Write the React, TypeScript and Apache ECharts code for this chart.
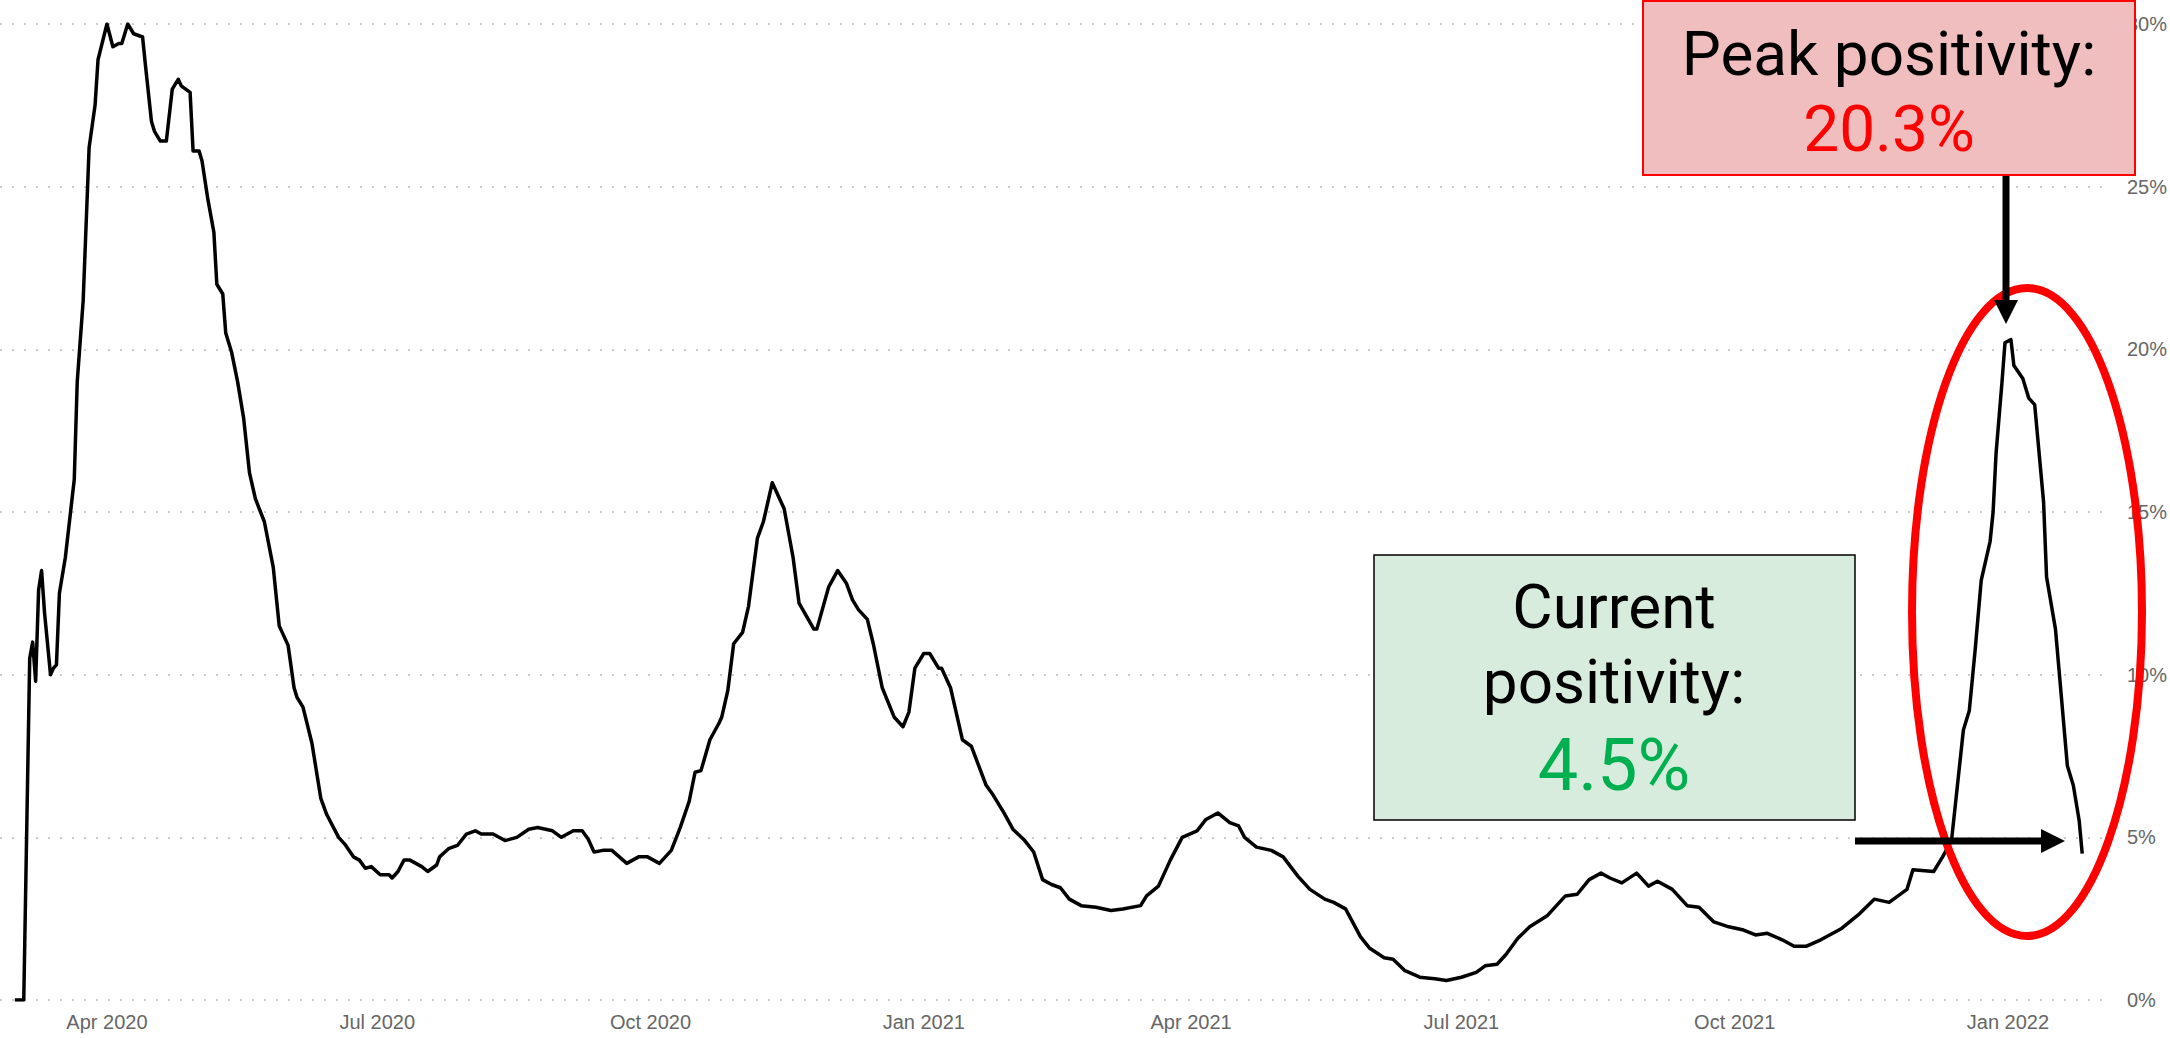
import React, { useEffect, useRef } from "react";
import * as echarts from "echarts";

// ---- Data ----
const dates2020 = [
  "2020-03-01","2020-03-04","2020-03-06","2020-03-07","2020-03-08","2020-03-09","2020-03-10","2020-03-11",
  "2020-03-13","2020-03-14","2020-03-15","2020-03-16","2020-03-18","2020-03-20","2020-03-21","2020-03-22",
  "2020-03-24","2020-03-26","2020-03-28","2020-03-29","2020-04-01","2020-04-03","2020-04-05","2020-04-06",
  "2020-04-08","2020-04-10","2020-04-13","2020-04-14","2020-04-16","2020-04-17","2020-04-19","2020-04-21",
  "2020-04-23","2020-04-25","2020-04-26","2020-04-29","2020-04-30","2020-05-02","2020-05-03","2020-05-05",
  "2020-05-07","2020-05-08","2020-05-10","2020-05-11","2020-05-13","2020-05-15","2020-05-17","2020-05-19",
  "2020-05-21","2020-05-24","2020-05-27","2020-05-29","2020-06-01","2020-06-03","2020-06-04","2020-06-06",
  "2020-06-09","2020-06-12","2020-06-14","2020-06-18","2020-06-20","2020-06-23","2020-06-25","2020-06-27",
  "2020-06-29","2020-07-02","2020-07-05","2020-07-06","2020-07-08","2020-07-10","2020-07-12","2020-07-16",
  "2020-07-18","2020-07-21","2020-07-22","2020-07-25","2020-07-28","2020-07-31","2020-08-03","2020-08-05",
  "2020-08-09","2020-08-11","2020-08-13","2020-08-17","2020-08-21","2020-08-24","2020-08-29","2020-09-01",
  "2020-09-05","2020-09-08","2020-09-10","2020-09-12","2020-09-15","2020-09-18","2020-09-23","2020-09-27",
  "2020-09-30","2020-10-04","2020-10-08","2020-10-11","2020-10-14","2020-10-16","2020-10-18","2020-10-21",
  "2020-10-24","2020-10-25","2020-10-27","2020-10-29","2020-11-01","2020-11-03","2020-11-06","2020-11-08",
  "2020-11-11","2020-11-15","2020-11-18","2020-11-20","2020-11-25","2020-11-26","2020-11-30","2020-12-03",
  "2020-12-06","2020-12-08","2020-12-10","2020-12-13","2020-12-15","2020-12-18","2020-12-22","2020-12-25",
  "2020-12-27","2020-12-29"
];
const values2020 = [
  0, 0, 10.5, 11.0, 9.8, 12.6, 13.2, 11.9,
  10.0, 10.2, 10.3, 12.5, 13.6, 15.2, 16.0, 19.0,
  21.5, 26.2, 27.5, 28.9, 30.0, 29.3, 29.4, 29.4,
  30.0, 29.7, 29.6, 28.7, 27.0, 26.7, 26.4, 26.4,
  28.0, 28.3, 28.1, 27.9, 26.1, 26.1, 25.8, 24.6,
  23.6, 22.0, 21.7, 20.5, 19.9, 19.0, 17.9, 16.2,
  15.4, 14.7, 13.3, 11.5, 10.9, 9.6, 9.3, 9.0,
  7.9, 6.2, 5.7, 5.0, 4.8, 4.4, 4.3, 4.05,
  4.1, 3.85, 3.85, 3.75, 3.95, 4.3, 4.3, 4.1,
  3.95, 4.15, 4.4, 4.65, 4.75, 5.1, 5.2, 5.1,
  5.1, 5.0, 4.9, 5.0, 5.25, 5.3, 5.2, 5.0,
  5.2, 5.2, 4.95, 4.55, 4.6, 4.6, 4.2, 4.4,
  4.4, 4.2, 4.6, 5.3, 6.1, 7.0, 7.05, 8.0,
  8.5, 8.7, 9.5, 10.95, 11.3, 12.1, 14.2, 14.7,
  15.9, 15.1, 13.6, 12.2, 11.4, 11.4, 12.7, 13.2,
  12.8, 12.3, 12.0, 11.7, 10.95, 9.6, 8.7, 8.4,
  8.85, 10.2
];
const dates2021 = [
  "2021-01-01","2021-01-03","2021-01-06","2021-01-07","2021-01-10","2021-01-14","2021-01-17","2021-01-22",
  "2021-01-24","2021-01-28","2021-01-31","2021-02-04","2021-02-07","2021-02-10","2021-02-13","2021-02-16",
  "2021-02-19","2021-02-23","2021-02-28","2021-03-05","2021-03-09","2021-03-15","2021-03-17","2021-03-21",
  "2021-03-25","2021-03-29","2021-04-03","2021-04-06","2021-04-10","2021-04-14","2021-04-17","2021-04-19",
  "2021-04-23","2021-04-28","2021-05-02","2021-05-07","2021-05-11","2021-05-16","2021-05-19","2021-05-23",
  "2021-05-28","2021-05-31","2021-06-05","2021-06-08","2021-06-12","2021-06-17","2021-06-22","2021-06-26",
  "2021-07-01","2021-07-06","2021-07-09","2021-07-13","2021-07-16","2021-07-20","2021-07-24","2021-07-30",
  "2021-08-05","2021-08-09","2021-08-13","2021-08-17","2021-08-20","2021-08-24","2021-08-29","2021-09-02",
  "2021-09-05","2021-09-10","2021-09-15","2021-09-19","2021-09-24","2021-09-29","2021-10-04","2021-10-08",
  "2021-10-12","2021-10-17","2021-10-21","2021-10-25","2021-10-30","2021-11-06","2021-11-12","2021-11-17",
  "2021-11-22","2021-11-28","2021-11-30","2021-12-07","2021-12-10","2021-12-13","2021-12-15","2021-12-17",
  "2021-12-19","2021-12-21","2021-12-23","2021-12-26","2021-12-27","2021-12-28","2021-12-30","2021-12-31"
];
const values2021 = [
  10.65, 10.65, 10.2, 10.2, 9.6, 8.0, 7.8, 6.6,
  6.35, 5.75, 5.25, 4.9, 4.55, 3.7, 3.55, 3.45,
  3.1, 2.9, 2.85, 2.75, 2.8, 2.9, 3.2, 3.5,
  4.3, 5.0, 5.2, 5.55, 5.75, 5.45, 5.35, 5.0,
  4.7, 4.6, 4.4, 3.8, 3.4, 3.1, 3.0, 2.8,
  1.95, 1.6, 1.3, 1.25, 0.9, 0.7, 0.65, 0.6,
  0.7, 0.85, 1.05, 1.1, 1.4, 1.9, 2.25, 2.6,
  3.2, 3.25, 3.7, 3.9, 3.75, 3.6, 3.9, 3.5,
  3.65, 3.4, 2.9, 2.85, 2.4, 2.25, 2.15, 2.0,
  2.05, 1.85, 1.65, 1.65, 1.85, 2.2, 2.65, 3.1,
  3.0, 3.4, 4.0, 3.95, 4.4, 4.9, 6.6, 8.3,
  8.9, 10.8, 12.9, 14.1, 15.0, 16.8, 19.0, 20.2
];
const dates2022 = [
  "2022-01-02","2022-01-03","2022-01-06","2022-01-08","2022-01-10","2022-01-11","2022-01-13","2022-01-14",
  "2022-01-17","2022-01-19","2022-01-21","2022-01-23","2022-01-25","2022-01-26"
];
const values2022 = [
  20.3, 19.5, 19.1, 18.5, 18.3, 17.3, 15.3, 13.0,
  11.4, 9.3, 7.2, 6.6, 5.5, 4.5
];

const xTickDates = [
  "2020-04-01","2020-07-01","2020-10-01","2021-01-01",
  "2021-04-01","2021-07-01","2021-10-01","2022-01-01"
];
const monthNames = ["Jan","Feb","Mar","Apr","May","Jun","Jul","Aug","Sep","Oct","Nov","Dec"];
const xMin = "2020-02-25";
const xMax = "2022-02-03";
const yMin = 0;
const yMax = 30;
const yStep = 5;

const peakTitle = "Peak positivity:";
const peakValue = "20.3%";
const currentTitle1 = "Current";
const currentTitle2 = "positivity:";
const currentValue = "4.5%";

function toTs(s: string): number {
  const [y, m, d] = s.split("-").map(Number);
  return new Date(y, m - 1, d).getTime();
}

export default function App() {
  const ref = useRef<HTMLDivElement>(null);

  useEffect(() => {
    if (!ref.current) return;
    const chart = echarts.init(ref.current, null, { renderer: "svg" });

    const allDates = [...dates2020, ...dates2021, ...dates2022];
    const allValues = [...values2020, ...values2021, ...values2022];
    const data = allDates.map((d, i) => [toTs(d), allValues[i]]);

    const boxFont = "Roboto";
    const txt = (text: string, x: number, y: number, size: number, color: string) => ({
      type: "text",
      z: 71,
      style: {
        text,
        x,
        y,
        fill: color,
        fontSize: size,
        fontFamily: boxFont,
        align: "center",
        verticalAlign: "middle",
      },
    });

    const option: any = {
      animation: false,
      backgroundColor: "#ffffff",
      grid: { left: 0, right: 64, top: 24, bottom: 38, containLabel: false },
      xAxis: {
        type: "value",
        min: toTs(xMin),
        max: toTs(xMax),
        axisLine: { show: false },
        axisTick: { show: false },
        splitLine: { show: false },
        axisLabel: {
          customValues: xTickDates.map(toTs),
          formatter: (v: number) => {
            const dt = new Date(v);
            return monthNames[dt.getMonth()] + " " + dt.getFullYear();
          },
          color: "#666666",
          fontSize: 20,
          fontFamily: "Liberation Sans",
          margin: 12,
        },
      },
      yAxis: {
        type: "value",
        position: "right",
        min: yMin,
        max: yMax,
        interval: yStep,
        axisLine: { show: false },
        axisTick: { show: false },
        axisLabel: {
          formatter: "{value}%",
          color: "#666666",
          fontSize: 20,
          fontFamily: "Liberation Sans",
          margin: 21,
        },
        splitLine: {
          show: true,
          lineStyle: { color: "#cccccc", width: 2, type: [2, 10] },
        },
      },
      series: [
        {
          type: "line",
          data,
          showSymbol: false,
          symbol: "none",
          smooth: false,
          lineStyle: { color: "#000000", width: 3.5, join: "round" },
          z: 2,
        },
      ],
      graphic: [
        {
          type: "ellipse",
          z: 50,
          shape: { cx: 2027, cy: 612, rx: 115, ry: 324 },
          style: { fill: "transparent", stroke: "#ff0000", lineWidth: 8 },
        },
        {
          type: "line",
          z: 60,
          shape: { x1: 2006, y1: 175, x2: 2006, y2: 302 },
          style: { stroke: "#000000", lineWidth: 7 },
        },
        {
          type: "polygon",
          z: 60,
          shape: { points: [[1994, 300], [2018, 300], [2006, 324]] },
          style: { fill: "#000000" },
        },
        {
          type: "line",
          z: 60,
          shape: { x1: 1855, y1: 841, x2: 2043, y2: 841 },
          style: { stroke: "#000000", lineWidth: 7 },
        },
        {
          type: "polygon",
          z: 60,
          shape: { points: [[2041, 829], [2041, 853], [2065, 841]] },
          style: { fill: "#000000" },
        },
        {
          type: "rect",
          z: 70,
          shape: { x: 1643, y: 1, width: 492, height: 174 },
          style: { fill: "#F0BEBE", stroke: "#FF0000", lineWidth: 2 },
        },
        txt(peakTitle, 1889, 53, 62, "#000000"),
        txt(peakValue, 1889, 129, 64, "#FF0000"),
        {
          type: "rect",
          z: 70,
          shape: { x: 1374, y: 555, width: 481, height: 265 },
          style: { fill: "#D8ECDD", stroke: "#000000", lineWidth: 1.5 },
        },
        txt(currentTitle1, 1614, 606, 62, "#000000"),
        txt(currentTitle2, 1614, 681, 62, "#000000"),
        txt(currentValue, 1614, 765, 72, "#00B050"),
      ],
    };

    chart.setOption(option);
    return () => {
      chart.dispose();
    };
  }, []);

  return (
    <div
      ref={ref}
      style={{ position: "absolute", left: 0, top: 0, width: 2170, height: 1038 }}
    />
  );
}
